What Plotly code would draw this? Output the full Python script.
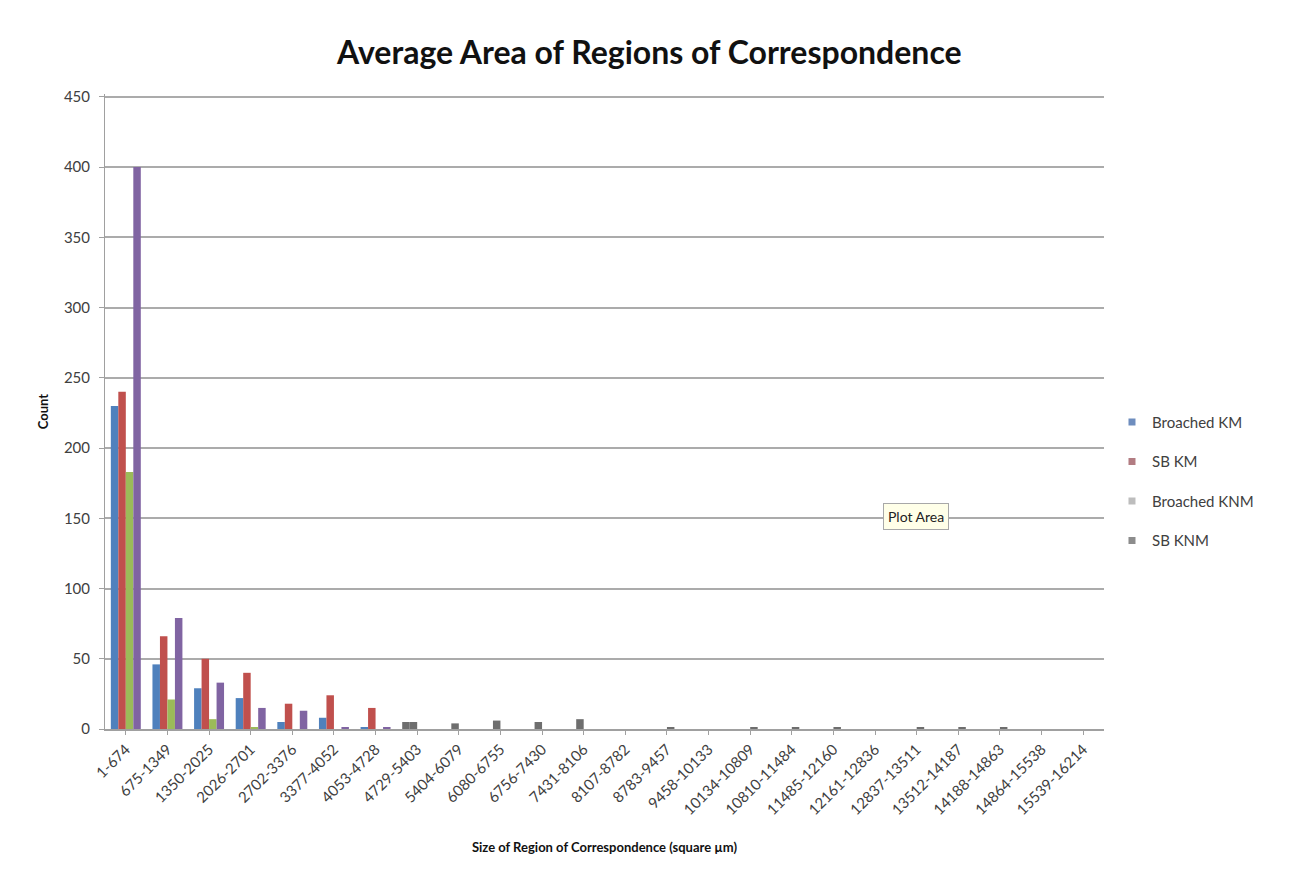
import plotly.graph_objects as go

# Bin ranges of region size (square µm)
categories = [
    "1-674", "675-1349", "1350-2025", "2026-2701", "2702-3376", "3377-4052",
    "4053-4728", "4729-5403", "5404-6079", "6080-6755", "6756-7430", "7431-8106",
    "8107-8782", "8783-9457", "9458-10133", "10134-10809", "10810-11484",
    "11485-12160", "12161-12836", "12837-13511", "13512-14187", "14188-14863",
    "14864-15538", "15539-16214",
]

# Counts per bin for each series
broached_km = [230, 46, 29, 22, 5, 8, 1, 5, 0, 0, 0, 0,
               0, 0, 0, 0, 0, 0, 0, 0, 0, 0, 0, 0]
sb_km = [240, 66, 50, 40, 18, 24, 15, 5, 4, 6, 5, 7,
         0, 0, 0, 0, 0, 0, 0, 0, 0, 0, 0, 0]
broached_knm = [183, 21, 7, 1, 0, 0, 0, 0, 0, 0, 0, 0,
                0, 1, 0, 1, 1, 1, 0, 1, 1, 1, 0, 0]
sb_knm = [400, 79, 33, 15, 13, 1, 1, 0, 0, 0, 0, 0,
          0, 0, 0, 0, 0, 0, 0, 0, 0, 0, 0, 0]

series_names = ["Broached KM", "SB KM", "Broached KNM", "SB KNM"]
bar_colors = ["#4F81BD", "#C0504D", "#9BBB59", "#8064A2"]
legend_colors = ["#6E8DBE", "#B27C82", "#BDBDBD", "#8C8C8C"]
faded_color = "#6E6E6E"
faded_from = 7  # bins from here on are drawn in the faded grey

FONT = "Lato"

fig = go.Figure()

for name, vals, col in zip(series_names,
                           [broached_km, sb_km, broached_knm, sb_knm],
                           bar_colors):
    cols = [col if i < faded_from else faded_color for i in range(len(vals))]
    fig.add_trace(go.Bar(
        x=categories, y=vals, name=name,
        marker=dict(color=cols, line=dict(width=0)),
        showlegend=False,
    ))

# Legend entries with muted swatches
for i, (name, col) in enumerate(zip(series_names, legend_colors)):
    fig.add_trace(go.Scatter(
        x=[None], y=[None], mode="markers", name=name,
        legendgroup=f"g{i}",
        marker=dict(symbol="square", size=7, color=col),
    ))

fig.update_layout(
    width=1291, height=873,
    margin=dict(l=105, r=187, t=94, b=144),
    paper_bgcolor="white", plot_bgcolor="white",
    barmode="group", bargap=0.28, bargroupgap=0,
    font=dict(family=FONT, color="#404040", size=14),
    title=dict(
        text="<b>Average Area of Regions of Correspondence</b>",
        x=0.503, xanchor="center", y=0.94, yanchor="middle",
        font=dict(family=FONT, size=32, color="#111111"),
    ),
    legend=dict(
        x=1.008, y=0.509, xanchor="left", yanchor="top",
        font=dict(family=FONT, size=15, color="#404040"),
        tracegroupgap=17, itemwidth=30,
        bgcolor="rgba(0,0,0,0)",
    ),
)

fig.update_yaxes(
    range=[0, 452], tickvals=[0, 50, 100, 150, 200, 250, 300, 350, 400, 450],
    showgrid=True, gridcolor="#ABABAB", gridwidth=1.5,
    showline=True, linecolor="#A0A0A0", linewidth=1,
    ticks="outside", ticklen=5, tickcolor="#A0A0A0",
    ticklabelstandoff=6,
    tickfont=dict(family=FONT, size=15, color="#404040"),
    zeroline=False,
    title=dict(text="<b>Count</b>", font=dict(family=FONT, size=13, color="#111111"),
               standoff=12),
)

fig.update_xaxes(
    tickangle=-45,
    showline=True, linecolor="#A0A0A0", linewidth=1.5,
    ticks="outside", ticklen=4, tickcolor="#A0A0A0",
    tickfont=dict(family=FONT, size=15, color="#404040"),
    title=dict(text="<b>Size of Region of Correspondence (square µm)</b>",
               font=dict(family=FONT, size=13, color="#111111"),
               standoff=26),
)

fig.add_annotation(
    xref="paper", yref="paper", x=0.812, y=0.335,
    xanchor="center", yanchor="middle",
    text="Plot Area", showarrow=False,
    font=dict(family=FONT, size=14, color="#222222"),
    bgcolor="#FFFFE8", bordercolor="#A8A8A8", borderwidth=1, borderpad=4,
)

fig.write_html("out.html")
